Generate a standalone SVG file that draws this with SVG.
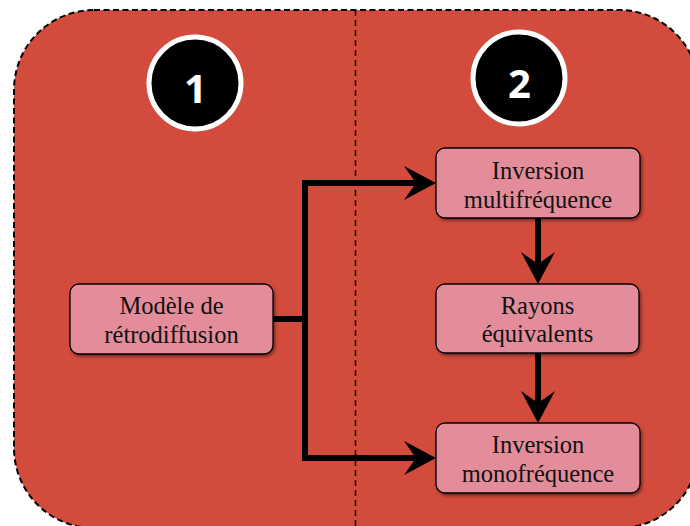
<svg xmlns="http://www.w3.org/2000/svg" width="690" height="526" viewBox="0 0 690 526">
  <defs>
    <filter id="sh" x="-10%" y="-10%" width="130%" height="140%">
      <feDropShadow dx="1.5" dy="2" stdDeviation="1.5" flood-color="#000" flood-opacity="0.45"/>
    </filter>
    <marker id="ah" markerUnits="userSpaceOnUse" viewBox="-32 -17 32 34" markerWidth="32" markerHeight="34" refX="-20" refY="0" orient="auto">
      <path d="M0,0 L-32,-17 L-20,0 L-32,17 Z" fill="#000"/>
    </marker>
    <style>
      .box{fill:#E38C9A;stroke:#000;stroke-width:1.3;filter:url(#sh)}
      .lbl{font-family:"Liberation Serif","Times New Roman",serif;font-size:24.5px;fill:#111;text-anchor:middle}
      .num{fill:#000;stroke:#fff;stroke-width:5}
      .numt{font-family:"Open Sans","Liberation Sans",sans-serif;font-weight:bold;font-size:40px;fill:#fff;text-anchor:middle}
      .con{fill:none;stroke:#000;stroke-width:6;stroke-linejoin:miter}
    </style>
  </defs>

  <g id="background">
    <rect x="14" y="10" width="685" height="518" rx="80" ry="80" fill="#D24B3D" stroke="#000" stroke-width="2" stroke-dasharray="6 3.5"/>
    <line x1="355.5" y1="10" x2="355.5" y2="526" stroke="#000" stroke-width="1.5" stroke-dasharray="6 4"/>
  </g>

  <g id="step1">
    <circle class="num" cx="195" cy="83" r="46"/>
    <text class="numt" x="195.5" y="103">1</text>
  </g>
  <g id="step2">
    <circle class="num" cx="519" cy="78" r="46"/>
    <text class="numt" x="519.5" y="98">2</text>
  </g>

  <g id="connectors">
    <path class="con" d="M273,319 H305 M305,183 V458"/>
    <path class="con" d="M302,183 H416" marker-end="url(#ah)"/>
    <path class="con" d="M302,458 H416" marker-end="url(#ah)"/>
    <path class="con" d="M538,218 V264" marker-end="url(#ah)"/>
    <path class="con" d="M538,353 V403" marker-end="url(#ah)"/>
  </g>

  <g id="modele">
    <rect class="box" x="70" y="284" width="203" height="70" rx="9"/>
    <text class="lbl" x="171.5" y="314">Modèle de</text>
    <text class="lbl" x="171.5" y="343">rétrodiffusion</text>
  </g>
  <g id="multifrequence">
    <rect class="box" x="436" y="148" width="204" height="70" rx="9"/>
    <text class="lbl" x="538" y="179">Inversion</text>
    <text class="lbl" x="538" y="208">multifréquence</text>
  </g>
  <g id="rayons">
    <rect class="box" x="436" y="284" width="203" height="69" rx="9"/>
    <text class="lbl" x="537.5" y="314">Rayons</text>
    <text class="lbl" x="537.5" y="342">équivalents</text>
  </g>
  <g id="monofrequence">
    <rect class="box" x="436" y="423" width="204" height="70" rx="9"/>
    <text class="lbl" x="538" y="453">Inversion</text>
    <text class="lbl" x="538" y="482">monofréquence</text>
  </g>
</svg>
